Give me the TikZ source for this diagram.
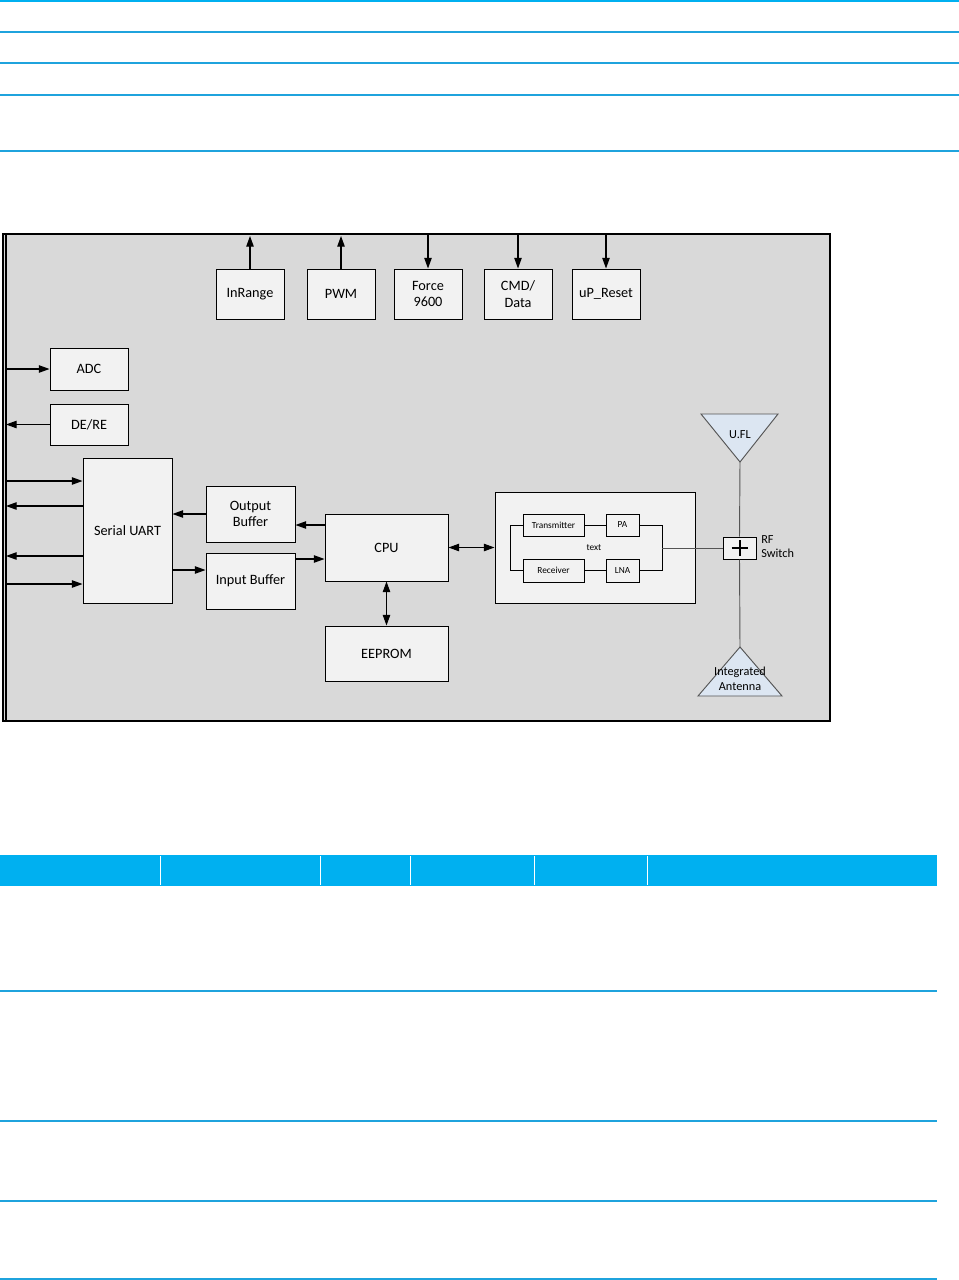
\documentclass[tikz,border=0pt]{standalone}
\usepackage{fontspec}
\setmainfont{Carlito}
\usetikzlibrary{arrows.meta}
\definecolor{bgray}{HTML}{D9D9D9}
\definecolor{boxfill}{HTML}{F2F2F2}
\definecolor{trifill}{HTML}{DCE6F2}
\definecolor{hdrblue}{HTML}{00B0F0}
\definecolor{rowblue}{HTML}{1FA3DD}
\definecolor{wireg}{HTML}{555555}
\tikzset{
  blk/.style 2 args={draw=black, fill=boxfill, line width=0.75pt, inner sep=0pt,
    minimum width=#1*0.75pt, minimum height=#2*0.75pt, align=center,
    font=\fontsize{10.7}{12.5}\selectfont},
  sblk/.style 2 args={blk={#1}{#2}, font=\fontsize{7}{8}\selectfont},
  arr/.style={line width=0.8pt, -{Triangle[length=8pt,width=5.6pt]}},
  darr/.style={line width=0.8pt, {Triangle[length=8pt,width=5.6pt]}-{Triangle[length=8pt,width=5.6pt]}},
  wire/.style={line width=0.7pt},
  gwire/.style={line width=0.7pt, draw=wireg},
  tri/.style={draw=wireg, fill=trifill, line width=0.7pt},
  rowline/.style={draw=rowblue, line width=1.1pt},
}
\begin{document}
\begin{tikzpicture}[x=0.75pt, y=-0.75pt]
\useasboundingbox (0,0) rectangle (959,1280);
\fill[white] (0,0) rectangle (959,1280);
% top lines
\draw[draw=hdrblue, line width=1.5pt] (0,1) -- (959,1);
\draw[rowline] (0,32) -- (959,32);
\draw[rowline] (0,63) -- (959,63);
\draw[rowline] (0,95) -- (959,95);
\draw[rowline] (0,151) -- (959,151);
% frame
\fill[bgray] (3,234) rectangle (830,721);
\draw[line width=2pt] (3,234) rectangle (830,721);
\draw[line width=0.8pt] (6,235) -- (6,720);
% top row
\node[blk={68}{50}] (inr) at (250,294) {InRange};
\node[blk={68}{50}] (pwm) at (341,294) {PWM};
\node[blk={68}{50}] (frc) at (428,294) {Force\\9600};
\node[blk={68}{50}] (cmd) at (518,294) {CMD/\\Data};
\node[blk={68}{50}] (upr) at (606,294) {uP\_Reset};
\coordinate (t1) at (250,236);
\coordinate (t2) at (341,236);
\coordinate (t3) at (428,235);
\coordinate (t4) at (518,235);
\coordinate (t5) at (606,235);
\draw[arr] (inr.north) -- (t1);
\draw[arr] (pwm.north) -- (t2);
\draw[arr] (t3) -- (frc.north);
\draw[arr] (t4) -- (cmd.north);
\draw[arr] (t5) -- (upr.north);
% left blocks
\node[blk={78}{42}] (adc) at (89,369) {ADC};
\node[blk={78}{41}] (dere) at (89,424.5) {DE/RE};
\coordinate (l1) at (6,369);
\coordinate (l2) at (6,424.5);
\draw[arr] (l1) -- (adc.west);
\draw[arr] (dere.west) -- (l2);
\node[blk={89}{145}] (uart) at (127.5,530.5) {Serial UART};
\coordinate (u1) at (6,481);
\coordinate (u2) at (6,506);
\coordinate (u3) at (6,556);
\coordinate (u4) at (6,584);
\draw[arr] (u1) -- (u1 -| uart.west);
\draw[arr] (u2 -| uart.west) -- (u2);
\draw[arr] (u3 -| uart.west) -- (u3);
\draw[arr] (u4) -- (u4 -| uart.west);
\node[blk={89}{56}] (obuf) at (250.5,514) {Output\\Buffer};
\node[blk={89}{56}] (ibuf) at (250.5,581) {Input Buffer};
\node[blk={123}{67}] (cpu) at (386.5,547.5) {CPU};
\node[blk={123}{55}] (eep) at (386.5,653.5) {EEPROM};
\coordinate (c1) at (0,570);
\coordinate (c2) at (0,525);
\coordinate (c3) at (0,559);
\draw[arr] (obuf.west) -- (obuf.west -| uart.east);
\draw[arr] (c1 -| uart.east) -- (c1 -| ibuf.west);
\draw[arr] (c2 -| cpu.west) -- (c2 -| obuf.east);
\draw[arr] (c3 -| ibuf.east) -- (c3 -| cpu.west);
\draw[darr] (cpu.south) -- (eep.north);
% RF module
\node[blk={200}{111}] (rf) at (595,547.5) {};
\draw[darr] (cpu.east) -- (rf.west);
\node[sblk={61}{22}] (tx) at (553.5,525) {Transmitter};
\node[sblk={33}{22}] (pa) at (622.5,525) {PA};
\node[sblk={61}{23}] (rx) at (553.5,570.5) {Receiver};
\node[sblk={33}{23}] (lna) at (622.5,570.5) {LNA};
\node[font=\fontsize{7}{8}\selectfont] (txt) at (594,548) {text};
\draw[wire] (tx.east) -- (pa.west);
\draw[wire] (rx.east) -- (lna.west);
\draw[wire] (tx.west) -- ++(-12,0) |- (rx.west);
\draw[wire] (pa.east) -- ++(23,0) |- (lna.east);
\coordinate (rj) at (662,548);
% RF switch and antennas
\node[blk={33}{22}] (sw) at (739.5,548) {};
\draw[gwire] (rj) -- (sw.west);
\draw[line width=1.5pt] ([xshift=-6pt]sw.center) -- ([xshift=6pt]sw.center);
\draw[line width=1.5pt] ([yshift=-6pt]sw.center) -- ([yshift=6pt]sw.center);
\node[anchor=north west, align=left, inner sep=0pt, font=\fontsize{9.2}{11}\selectfont] (swl) at (761,535) {RF\\Switch};
\draw[tri] (701,414) -- (778,414) -- (740,462) -- cycle;
\coordinate (ufa) at (740,462);
\node[font=\fontsize{9.2}{11}\selectfont] (ufl) at (740,435) {U.FL};
\draw[tri] (740,647) -- (782,696) -- (698,696) -- cycle;
\coordinate (ana) at (740,647);
\node[align=center, font=\fontsize{9.2}{11}\selectfont, inner sep=0pt] (ant) at (740,679) {Integrated\\Antenna};
\draw[gwire] (ufa) -- (sw.north);
\draw[gwire] (sw.south) -- (ana);
% bottom table
\fill[hdrblue] (0,855) rectangle (937,886);
\foreach \xx in {160,320,410,534,647} {
  \draw[white, line width=0.75pt] (\xx,856) -- (\xx,885);
}
\draw[rowline] (0,991) -- (937,991);
\draw[rowline] (0,1121) -- (937,1121);
\draw[rowline] (0,1201) -- (937,1201);
\draw[rowline] (0,1279) -- (937,1279);
\end{tikzpicture}
\end{document}
